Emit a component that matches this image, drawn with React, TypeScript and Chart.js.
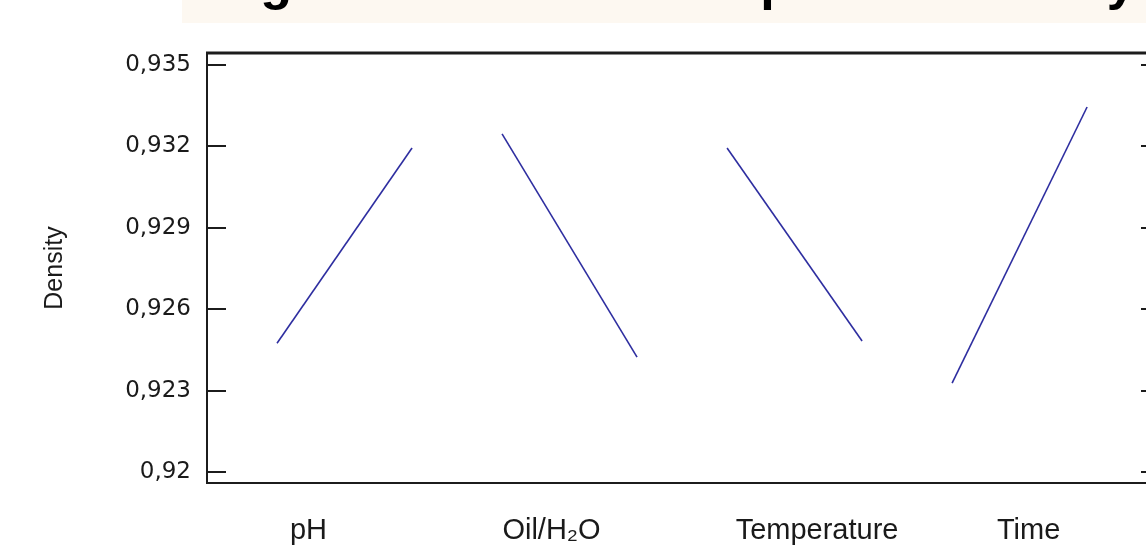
import React, { useEffect, useRef } from "react";
import { Chart, registerables } from "chart.js";

Chart.register(...registerables);

// ---- data ----
const titleText = "Figure 2. Main effects plot for density";
const factorNames = ["pH", "Oil/H\u2082O", "Temperature", "Time"];
const lowLevelX = [1, 6, 11, 16];
const highLevelX = [4, 9, 14, 19];
const lowMeans = [0.92475, 0.93246, 0.93194, 0.92328];
const highMeans = [0.93194, 0.92424, 0.92483, 0.93345];
const factorLabelX = [1.7, 7.1, 13.0, 17.7];
const yTicks = [0.92, 0.923, 0.926, 0.929, 0.932, 0.935];
const yAxisTitle = "Density";

const W = 1175;
const H = 550;

export default function App() {
  const ref = useRef<HTMLCanvasElement>(null);

  useEffect(() => {
    const canvas = ref.current;
    if (!canvas) return;

    const framePlugin = {
      id: "frame",
      beforeDraw(chart: any) {
        const ctx = chart.ctx;
        ctx.save();
        ctx.fillStyle = "#ffffff";
        ctx.fillRect(0, 0, chart.width, chart.height);
        ctx.fillStyle = "#fdf8f1";
        ctx.fillRect(182, 0, chart.width - 182, 23);
        ctx.font = "bold 52px 'Liberation Sans', Arial, sans-serif";
        ctx.fillStyle = "#000000";
        ctx.textBaseline = "alphabetic";
        ctx.textAlign = "left";
        ctx.fillText(titleText, 214, -1);
        ctx.restore();
      },
      afterDraw(chart: any) {
        const ctx = chart.ctx;
        const { left, right, top, bottom } = chart.chartArea;
        const ys = chart.scales.y;
        ctx.save();
        ctx.strokeStyle = "#1c1c1c";
        ctx.lineCap = "butt";
        ctx.lineWidth = 2;
        ctx.beginPath();
        ctx.moveTo(left, top);
        ctx.lineTo(left, bottom);
        ctx.lineTo(right, bottom);
        ctx.lineTo(right, top);
        ctx.stroke();
        ctx.lineWidth = 3;
        ctx.beginPath();
        ctx.moveTo(left - 1, top);
        ctx.lineTo(right + 1, top);
        ctx.stroke();
        ctx.lineWidth = 2;
        for (const v of yTicks) {
          const y = Math.round(ys.getPixelForValue(v));
          ctx.beginPath();
          ctx.moveTo(left, y);
          ctx.lineTo(left + 19, y);
          ctx.moveTo(right, y);
          ctx.lineTo(right - 19, y);
          ctx.stroke();
        }
        ctx.restore();
      },
    };

    const datasets = factorNames.map((name, i) => ({
      label: name,
      data: [
        { x: lowLevelX[i], y: lowMeans[i] },
        { x: highLevelX[i], y: highMeans[i] },
      ],
      borderColor: "#2e2ea0",
      borderWidth: 1.6,
      pointRadius: 0,
      fill: false,
      tension: 0,
    }));

    const chart = new Chart(canvas, {
      type: "line",
      data: { datasets },
      plugins: [framePlugin],
      options: {
        animation: false,
        responsive: false,
        devicePixelRatio: 1,
        layout: { padding: { top: 53, left: 0, right: 15, bottom: 0 } },
        plugins: {
          legend: { display: false },
          tooltip: { enabled: false },
          title: { display: false },
        },
        scales: {
          x: {
            type: "linear",
            min: -0.556,
            max: 20.62,
            grid: { display: false, drawTicks: false },
            border: { display: false },
            afterBuildTicks: (scale: any) => {
              scale.ticks = factorLabelX.map((v) => ({ value: v }));
            },
            afterFit: (scale: any) => {
              scale.height = 67;
            },
            ticks: {
              autoSkip: false,
              maxRotation: 0,
              padding: 31,
              color: "#1a1a1a",
              font: { family: "'Liberation Sans', Arial, sans-serif", size: 29 },
              callback: (_v: any, idx: number) => factorNames[idx],
            },
          },
          y: {
            type: "linear",
            min: 0.9196,
            max: 0.93544,
            grid: { display: false, drawTicks: false },
            border: { display: false },
            afterBuildTicks: (scale: any) => {
              scale.ticks = yTicks.map((v) => ({ value: v }));
            },
            afterFit: (scale: any) => {
              scale.width = 207;
            },
            ticks: {
              padding: 16,
              color: "#1a1a1a",
              font: { family: "'DejaVu Sans', sans-serif", size: 23 },
              callback: (v: any) => String(v).replace(".", ","),
            },
            title: {
              display: true,
              text: yAxisTitle,
              color: "#1a1a1a",
              font: { family: "'Liberation Sans', Arial, sans-serif", size: 25 },
              padding: { top: 40, bottom: 0 },
            },
          },
        },
      },
    });

    return () => chart.destroy();
  }, []);

  return (
    <div
      style={{
        position: "fixed",
        left: 0,
        top: 0,
        width: 1146,
        height: 550,
        overflow: "hidden",
        background: "#ffffff",
      }}
    >
      <canvas
        ref={ref}
        width={W}
        height={H}
        style={{ width: W, height: H, display: "block" }}
      />
    </div>
  );
}
